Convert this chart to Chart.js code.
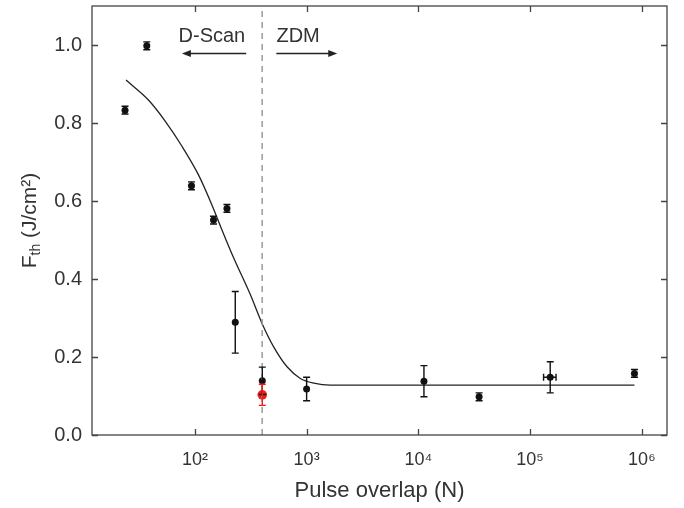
<!DOCTYPE html>
<html><head><meta charset="utf-8">
<script src="https://cdn.jsdelivr.net/npm/chart.js@4.4.1/dist/chart.umd.min.js"></script>
<style>html,body{margin:0;padding:0;background:#fff;}canvas{display:block;}</style>
</head><body>
<canvas id="c" width="684" height="508"></canvas>
<script>
// ---- data ----
const overlapN   = [23.7, 37.1, 93.2, 146.8, 193.6, 229.8, 401, 1000, 11220, 34970, 151400, 859000];
const fluenceTh  = [0.833, 0.998, 0.639, 0.551, 0.581, 0.289, 0.139, 0.118, 0.138, 0.098, 0.148, 0.158];
const fluenceErr = [0.010, 0.010, 0.010, 0.010, 0.010, 0.079, 0.035, 0.030, 0.040, 0.010, 0.040, 0.010];
const overlapLo  = [null, null, null, null, null, null, null, null, null, null, 132000, null];
const overlapHi  = [null, null, null, null, null, null, null, null, null, null, 170700, null];

const redN   = [401];
const redF   = [0.103];
const redErr = [0.027];

const fitN = [24.2, 38.4, 54.2, 76.4, 107.7, 142, 174.6, 221.6, 313.4, 399, 507, 668, 879, 1159, 1633, 859000];
const fitF = [0.910, 0.859, 0.805, 0.741, 0.667, 0.590, 0.526, 0.455, 0.360, 0.286, 0.226, 0.175, 0.145, 0.133, 0.128, 0.128];

const boundaryN = [400, 400];
const boundaryF = [0, 1.1];

const xTickValues = [100, 1000, 10000, 100000, 1000000];
const xTickLabels = ['10²', '10³', '10⁴', '10⁵', '10⁶'];
const yTickValues = [0, 0.2, 0.4, 0.6, 0.8, 1.0];

const xTitle = 'Pulse overlap (N)';
const annotations = [
  {text: 'D-Scan', x: 142, y: 1.023, from: 288, to: 76.5, ay: 0.979},
  {text: 'ZDM',    x: 839, y: 1.023, from: 536, to: 1880, ay: 0.979}
];

const pts = (xs, ys) => xs.map((v, i) => ({x: v, y: ys[i]}));
const FONT = "'Liberation Sans', Arial, sans-serif";
const INK = '#333';

const errorBars = {
  id: 'errorBars',
  afterDatasetsDraw(chart) {
    const {ctx, scales: {x, y}} = chart;
    chart.data.datasets.forEach(ds => {
      if (!ds.yErr) return;
      ctx.save();
      ctx.strokeStyle = ds.errColor;
      ctx.lineWidth = 1.4;
      ds.data.forEach((p, i) => {
        const px = x.getPixelForValue(p.x), py = y.getPixelForValue(p.y);
        const t = y.getPixelForValue(p.y + ds.yErr[i]);
        const b = y.getPixelForValue(p.y - ds.yErr[i]);
        ctx.beginPath();
        ctx.moveTo(px, t); ctx.lineTo(px, b);
        ctx.moveTo(px - 3.5, t); ctx.lineTo(px + 3.5, t);
        ctx.moveTo(px - 3.5, b); ctx.lineTo(px + 3.5, b);
        if (ds.xLo && ds.xLo[i] != null) {
          const l = x.getPixelForValue(ds.xLo[i]), r = x.getPixelForValue(ds.xHi[i]);
          ctx.moveTo(l, py); ctx.lineTo(r, py);
          ctx.moveTo(l, py - 3.5); ctx.lineTo(l, py + 3.5);
          ctx.moveTo(r, py - 3.5); ctx.lineTo(r, py + 3.5);
        }
        ctx.stroke();
      });
      ctx.restore();
    });
  }
};

const frame = {
  id: 'frame',
  afterDraw(chart) {
    const {ctx, chartArea: a, scales: {x, y}} = chart;
    ctx.save();
    ctx.strokeStyle = '#444';
    ctx.lineWidth = 1.3;
    ctx.strokeRect(a.left, a.top, a.right - a.left, a.bottom - a.top);
    ctx.beginPath();
    x.ticks.forEach(t => {
      const px = Math.round(x.getPixelForValue(t.value)) + 0.5;
      ctx.moveTo(px, a.bottom); ctx.lineTo(px, a.bottom - 6);
      ctx.moveTo(px, a.top); ctx.lineTo(px, a.top + 6);
    });
    y.ticks.forEach(t => {
      const py = Math.round(y.getPixelForValue(t.value)) + 0.5;
      ctx.moveTo(a.left, py); ctx.lineTo(a.left + 6, py);
      ctx.moveTo(a.right, py); ctx.lineTo(a.right - 6, py);
    });
    ctx.stroke();

    // y-axis title with subscript
    ctx.fillStyle = INK;
    ctx.textBaseline = 'middle';
    ctx.textAlign = 'left';
    const cx = 30, cy = (a.top + a.bottom) / 2;
    ctx.translate(cx, cy);
    ctx.rotate(-Math.PI / 2);
    const big = '21px ' + FONT, small = '14px ' + FONT;
    ctx.font = big; const wF = ctx.measureText('F').width;
    ctx.font = small; const wS = ctx.measureText('th').width;
    ctx.font = big; const wR = ctx.measureText(' (J/cm²)').width;
    let sx = -(wF + wS + wR) / 2;
    ctx.font = big; ctx.fillText('F', sx, 0); sx += wF;
    ctx.font = small; ctx.fillText('th', sx, 6); sx += wS;
    ctx.font = big; ctx.fillText(' (J/cm²)', sx, 0);
    ctx.restore();

    // annotations
    ctx.save();
    ctx.fillStyle = INK; ctx.strokeStyle = '#222';
    ctx.font = '20px ' + FONT;
    ctx.textAlign = 'center'; ctx.textBaseline = 'middle';
    annotations.forEach(an => {
      ctx.fillText(an.text, x.getPixelForValue(an.x), y.getPixelForValue(an.y));
      const x0 = x.getPixelForValue(an.from), x1 = x.getPixelForValue(an.to);
      const ay = Math.round(y.getPixelForValue(an.ay)) + 0.5;
      const dir = Math.sign(x1 - x0);
      ctx.lineWidth = 1.5;
      ctx.beginPath(); ctx.moveTo(x0, ay); ctx.lineTo(x1 - dir * 6, ay); ctx.stroke();
      ctx.beginPath();
      ctx.moveTo(x1, ay); ctx.lineTo(x1 - dir * 9, ay - 3.5); ctx.lineTo(x1 - dir * 9, ay + 3.5);
      ctx.closePath(); ctx.fillStyle = '#222'; ctx.fill();
      ctx.fillStyle = INK;
    });
    ctx.restore();
  }
};

new Chart(document.getElementById('c'), {
  type: 'scatter',
  data: {
    datasets: [
      {data: pts(boundaryN, boundaryF), showLine: true, borderColor: '#9a9a9a', borderWidth: 1.5,
       borderDash: [6, 5], pointRadius: 0},
      {data: pts(fitN, fitF), showLine: true, borderColor: '#222', borderWidth: 1.3,
       pointRadius: 0, cubicInterpolationMode: 'monotone'},
      {data: pts(overlapN, fluenceTh), yErr: fluenceErr, xLo: overlapLo, xHi: overlapHi, errColor: '#111',
       pointRadius: 3.5, backgroundColor: '#111', borderColor: '#111', borderWidth: 0},
      {data: pts(redN, redF), yErr: redErr, errColor: '#e8201c',
       pointRadius: 4.8, backgroundColor: '#e8201c', borderColor: '#e8201c', borderWidth: 0}
    ]
  },
  options: {
    responsive: false, animation: false, devicePixelRatio: 1,
    layout: {padding: {top: 6, right: 17, left: 0, bottom: 0}},
    plugins: {legend: {display: false}, tooltip: {enabled: false}},
    scales: {
      x: {
        type: 'logarithmic', min: 12, max: 1.68e6,
        afterBuildTicks: s => { s.ticks = xTickValues.map(v => ({value: v})); },
        afterFit: s => { s.height = 73; s.paddingLeft = 0; s.paddingRight = 0; },
        grid: {display: false, drawTicks: false}, border: {display: false},
        ticks: {callback: (v, i) => xTickLabels[i], color: INK, padding: 14,
                font: {family: FONT, size: 18}, maxRotation: 0, autoSkip: false},
        title: {display: true, text: xTitle, color: INK, font: {family: FONT, size: 22},
                padding: {top: 0, bottom: 4}}
      },
      y: {
        min: 0, max: 1.1,
        afterBuildTicks: s => { s.ticks = yTickValues.map(v => ({value: v})); },
        afterFit: s => { s.width = 92; s.paddingTop = 0; s.paddingBottom = 0; },
        grid: {display: false, drawTicks: false}, border: {display: false},
        ticks: {callback: v => Number(v).toFixed(1), color: INK, padding: 10,
                font: {family: FONT, size: 20}}
      }
    }
  },
  plugins: [errorBars, frame]
});
</script>
</body></html>
